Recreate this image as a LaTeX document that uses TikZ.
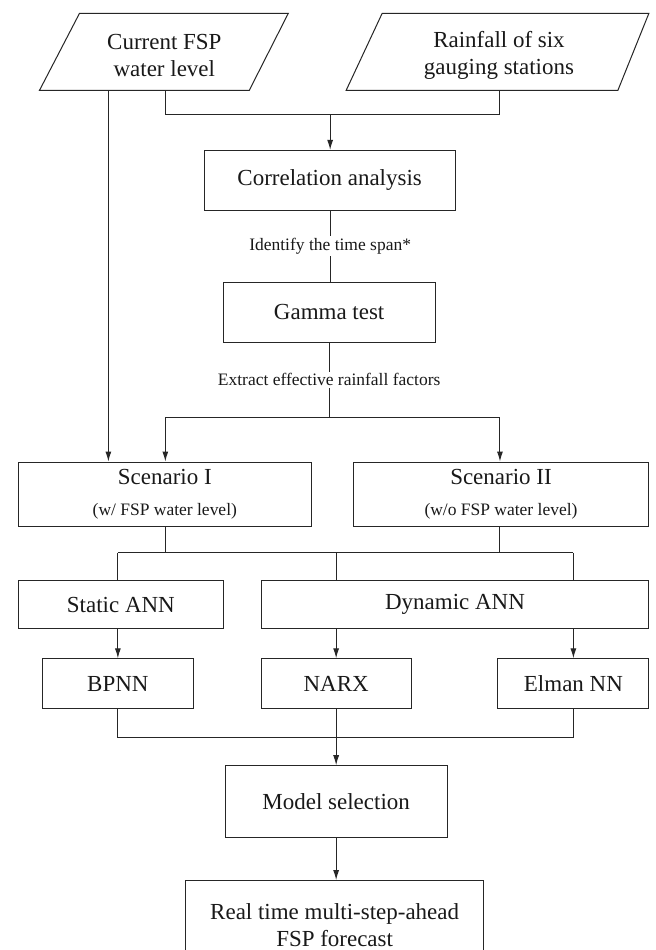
\documentclass[tikz,border=0pt]{standalone}
\usepackage{fontspec}
\setmainfont{Liberation Serif}
\usetikzlibrary{arrows.meta}
\begin{document}
\begin{tikzpicture}[x=1pt,y=-1pt,
  line width=1pt,
  every path/.style={draw=black!85},
  box/.style={draw=black!85, line width=1pt, inner sep=0pt, align=center,
    font=\fontsize{23}{27}\selectfont, text=black!90},
  lbl/.style={fill=white, inner sep=2pt, font=\fontsize{17.5}{21}\selectfont, text=black!90},
  arr/.style={-{Latex[length=10pt,width=6pt]}}
]
\useasboundingbox (0,0) rectangle (655,950);
\fill[white] (0,0) rectangle (655,950);

% input parallelograms
\draw (79,13) -- (288,13) -- (249,90) -- (39,90) -- cycle;
\draw (382,13) -- (649,13) -- (618,90) -- (346,90) -- cycle;
\node[box, draw=none] (cur) at (164,55) {Current FSP\\water level};
\node[box, draw=none] (rain) at (499,55) {Rainfall of six\\gauging stations};
\coordinate (curA) at (108,90);
\coordinate (curB) at (165,90);
\coordinate (rainB) at (500,90);
\coordinate (j1) at (330,114);

% boxes
\node[box, minimum width=251pt, minimum height=60pt] (corr) at (329.5,180) {Correlation analysis};
\node[box, minimum width=212pt, minimum height=60pt] (gamma) at (329,312) {Gamma test};
\node[box, minimum width=293pt, minimum height=65pt] (s1) at (164.5,494.5) {Scenario I\\[4pt]{\fontsize{17.5}{21}\selectfont (w/ FSP water level)}};
\node[box, minimum width=296pt, minimum height=65pt] (s2) at (501,494.5) {Scenario II\\[4pt]{\fontsize{17.5}{21}\selectfont (w/o FSP water level)}};
\node[box, minimum width=205pt, minimum height=48pt] (static) at (120.5,605) {Static ANN};
\node[box, minimum width=388pt, minimum height=48pt] (dyn) at (455,605) {Dynamic ANN};
\node[box, minimum width=151pt, minimum height=50pt] (bpnn) at (117.5,684) {BPNN};
\node[box, minimum width=150pt, minimum height=50pt] (narx) at (336,684) {NARX};
\node[box, minimum width=151pt, minimum height=50pt] (elman) at (573.5,684) {Elman NN};
\node[box, minimum width=222pt, minimum height=72pt] (model) at (336,802) {Model selection};
\node[box, minimum width=299pt, minimum height=90pt] (final) at (334.5,926) {Real time multi-step-ahead\\FSP forecast};

% top connectors
\draw[arr] (curA) -- (curA |- s1.north);
\draw (curB) -- (curB |- j1) -- (rainB |- j1) -- (rainB);
\draw[arr] (j1) -- (j1 |- corr.north);

% corr -> gamma
\draw (corr.south -| j1) -- node[lbl] (l1) {Identify the time span*} (gamma.north -| j1);

% gamma -> scenarios
\coordinate (j2) at (329,417);
\draw (gamma.south) -- node[lbl] (l2) {Extract effective rainfall factors} (j2);
\draw (curB |- j2) -- (rainB |- j2);
\draw[arr] (curB |- j2) -- (curB |- s1.north);
\draw[arr] (rainB |- j2) -- (rainB |- s2.north);

% scenarios -> ANN types
\coordinate (j3) at (336,553);
\draw (curB |- s1.south) -- (curB |- j3);
\draw (rainB |- s2.south) -- (rainB |- j3);
\draw (bpnn.north |- j3) -- (elman.north |- j3);
\draw (bpnn.north |- j3) -- (bpnn.north |- static.north);
\draw (j3) -- (j3 |- dyn.north);
\draw (elman.north |- j3) -- (elman.north |- dyn.north);

% ANN types -> models
\draw[arr] (bpnn.north |- static.south) -- (bpnn.north);
\draw[arr] (narx.north |- dyn.south) -- (narx.north);
\draw[arr] (elman.north |- dyn.south) -- (elman.north);

% models -> selection
\coordinate (j4) at (336,738);
\draw (bpnn.south) -- (bpnn.south |- j4) -- (elman.south |- j4) -- (elman.south);
\draw (narx.south) -- (j4);
\draw[arr] (j4) -- (model.north);
\draw[arr] (model.south) -- (model.south |- final.north);
\end{tikzpicture}
\end{document}
